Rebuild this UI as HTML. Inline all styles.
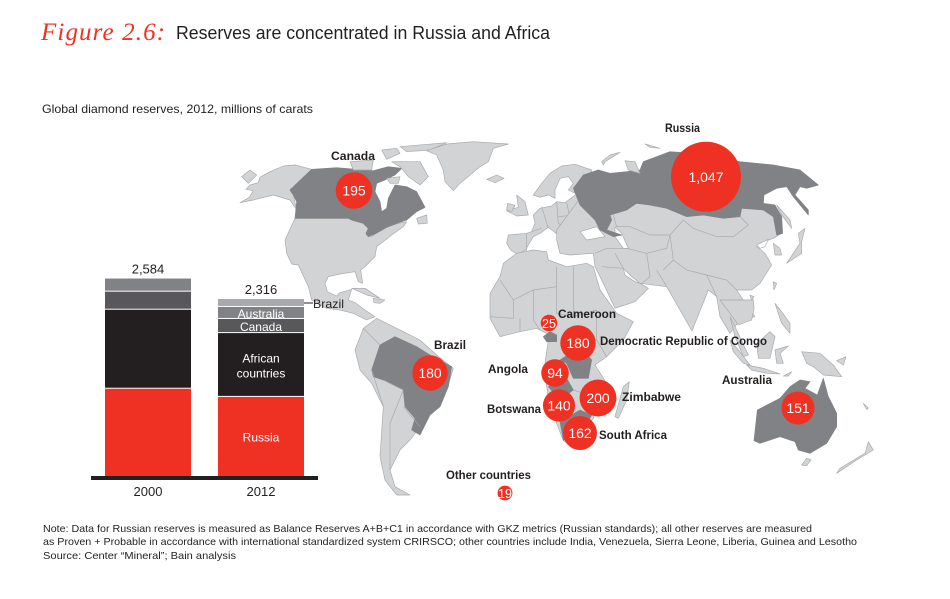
<!DOCTYPE html>
<html lang="en">
<head>
<meta charset="utf-8">
<title>Reserves are concentrated in Russia and Africa</title>
<style>
html,body{margin:0;padding:0;background:#fff;width:950px;height:599px;overflow:hidden}
svg{display:block;font-family:"Liberation Sans",sans-serif}
.land polygon,.land-light{fill:#d1d3d4;stroke:#a7a9ac;stroke-width:2;stroke-linejoin:round}
.dark{fill:#808285!important;stroke:#808285!important}
.sea{fill:#fff!important;stroke:#a7a9ac!important}
.border{fill:none;stroke:#a7a9ac;stroke-width:2}
.lbl{font-weight:bold;font-size:12px;fill:#231f20}
</style>
</head>
<body>
<svg id="chart" width="950" height="599" viewBox="0 0 950 599" xmlns="http://www.w3.org/2000/svg">
<text x="41" y="40" font-family="'Liberation Serif',serif" font-style="italic" font-size="25" fill="#ef3124" textLength="124" lengthAdjust="spacing">Figure 2.6:</text>
<text x="176" y="39" font-size="18" fill="#231f20" textLength="374" lengthAdjust="spacingAndGlyphs">Reserves are concentrated in Russia and Africa</text>
<text x="42" y="113" font-size="12" fill="#231f20" textLength="271" lengthAdjust="spacingAndGlyphs">Global diamond  reserves, 2012, millions of carats</text>

<g>
<g class="land" transform="translate(240,120) scale(.33333)">
<polygon points="0,248 28,232 40,212 18,208 30,195 55,188 60,172 90,155 130,138 165,135 215,148 150,210 160,225 170,270 150,240 100,225 40,240"/>
<polygon points="5,170 30,150 50,165 25,190"/>
<polygon points="165,295 325,295 335,300 370,310 385,325 378,345 395,350 405,342 440,322 475,310 500,305 490,320 455,345 430,365 410,380 405,410 375,440 362,450 368,490 355,485 345,455 300,462 265,470 255,490 262,515 290,528 300,518 335,508 325,540 345,548 375,570 405,590 380,600 340,580 300,570 260,565 215,540 205,500 175,435 155,432 140,400 135,360"/>
<polygon class="dark" points="150,210 215,148 290,143 400,152 445,140 485,145 465,165 435,180 410,190 405,215 420,245 425,275 440,265 445,235 465,195 500,200 530,215 555,262 530,275 500,300 470,310 440,322 405,342 385,350 378,340 385,325 370,310 335,300 325,295 165,295 170,245 160,225"/>
<polygon points="455,125 540,125 565,170 540,195 505,170 480,140"/>
<polygon points="330,125 400,120 395,150 340,150"/>
<polygon points="425,90 470,85 480,100 440,118"/>
<polygon points="480,80 620,68 570,90 500,95"/>
<polygon points="440,175 480,170 475,190 450,190"/>
<polygon points="530,295 560,285 562,310 535,312"/>
<polygon points="560,92 620,72 700,65 805,72 760,85 745,125 720,140 690,165 660,190 640,212 615,185 610,150 590,105"/>
<polygon points="740,178 770,165 792,175 765,188"/>
<polygon points="335,505 375,505 420,535 380,525"/>
<polygon points="400,535 435,540 420,550 402,548"/>
<polygon points="830,225 855,245 865,285 830,288 800,272 835,262"/>
<polygon points="803,250 825,256 815,275 800,270"/>
<polygon points="880,225 905,190 930,160 965,138 1005,133 1055,150 1055,205 1010,222 985,210 1000,190 985,170 960,175 945,210 945,235 925,225 900,232"/>
<polygon points="805,345 860,340 875,335 885,310 880,285 900,265 935,258 950,245 975,248 1010,222 1055,205 1055,360 1020,335 990,335 1005,362 1015,398 995,400 985,375 955,345 925,322 900,340 880,350 855,392 830,402 812,390 800,370"/>
<path class="border" d="M875,335 L905,325 M905,260 L925,325 M950,245 L955,310 L990,335 M980,248 L1000,335 M955,290 L1050,280 M1010,222 L1040,275 M860,340 L860,395"/>
</g>
<g class="land" transform="translate(560,120) scale(.33333)">
<polygon points="-10,330 60,235 150,240 250,225 400,260 540,245 650,270 665,340 640,355 600,370 590,380 615,400 635,435 600,490 575,510 530,510 550,540 585,590 540,600 510,640 480,590 470,530 445,510 396,633 320,500 240,490 265,505 225,545 165,565 130,490 105,440 100,400 30,405 0,400 -10,360"/>
<polygon class="sea" points="60,335 110,320 135,350 80,360"/>
<polygon class="sea" points="165,320 185,340 205,385 190,385 165,350"/>
<polygon class="sea" points="190,445 215,470 240,490 225,485 195,465"/>
<polygon class="sea" points="590,375 625,358 615,380 600,385"/>
<polygon class="dark" points="40,205 70,165 115,150 150,160 200,155 240,150 250,125 330,95 400,100 540,125 640,135 720,150 775,195 740,205 720,200 705,225 745,270 745,285 700,230 680,200 650,205 612,225 610,250 645,255 665,290 668,340 650,345 640,290 610,270 545,265 540,290 490,295 430,285 380,290 320,265 270,255 230,250 200,270 150,285 155,300 140,330 185,345 160,350 120,330 105,300 60,255"/>
<polygon points="125,125 150,105 180,97 135,125 130,135"/>
<polygon points="255,72 300,85 270,82"/>
<polygon points="195,122 225,125 240,160 205,150"/>
<polygon points="650,255 690,300 695,325 665,285"/>
<polygon points="680,430 700,400 720,370 715,340 735,325 725,365 725,400 695,420"/>
<polygon points="640,370 660,385 665,405 645,405"/>
<polygon points="640,485 650,490 642,510"/>
<polygon points="570,525 582,530 575,542"/>
<path class="border" d="M160,285 L170,320 L210,320 L270,345 L330,345 L370,300 L400,325 L470,350 L520,350 L565,315 L540,290 M330,345 L340,420 L380,450 L440,465 L500,480 L530,510 M200,385 L260,400 L270,470 L245,490 M260,400 L320,385 L330,345 M290,450 L320,500 M340,420 L310,450 M105,400 L140,385 L200,385 M125,440 L190,445 M165,400 L190,445 M440,465 L470,530 M495,540 L540,600"/>
</g>
<g class="land" transform="translate(340,290) scale(.33333)">
<polygon points="530,-110 580,-120 620,-115 625,-90 680,-70 740,-80 760,-70 780,0 830,70 880,95 850,150 800,200 765,225 800,280 800,320 770,345 760,385 725,430 700,470 670,452 650,400 625,320 612,240 625,150 620,130 590,115 540,125 480,140 450,85 450,10 480,-40 490,-80"/>
<polygon points="825,380 850,290 868,275 860,330 835,385"/>
<polygon points="45,180 70,115 110,85 170,115 240,150 290,195 340,235 320,300 300,350 260,380 240,410 210,450 180,480 150,540 165,590 210,615 170,615 135,570 120,500 130,350 95,280 60,240"/>
<polygon class="dark" points="95,240 120,165 165,140 230,170 270,195 335,230 325,290 300,350 270,375 240,435 215,420 225,385 195,350 190,300 130,270 100,260"/>
<polygon class="dark" points="610,140 630,125 650,135 650,155 620,155"/>
<polygon class="dark" points="660,210 720,170 755,210 745,265 700,265 680,220"/>
<polygon class="dark" points="625,290 680,265 700,300 660,330"/>
<polygon class="dark" points="660,395 720,360 755,375 720,440 670,450"/>
<path class="border" d="M450,80 L520,85 L520,30 L580,0 L650,-10 L650,70 L700,80 L770,60 M580,0 L580,90 L600,120 M520,30 L480,-30 M650,-10 L650,-70 M700,80 L700,-70 M540,125 L540,85 M770,60 L770,150 L800,200 M700,130 L770,150 M120,165 L70,115 M95,240 L130,350 M130,270 L190,300 M190,300 L150,400 L150,540 M190,350 L240,410 M700,300 L760,320 M660,320 L700,340"/>
</g>
<g class="land" transform="translate(680,300) scale(.33333)">
<polygon points="120,0 220,0 222,25 215,60 175,75 150,40"/>
<polygon points="150,50 165,80 205,165 190,170 165,110"/>
<polygon points="230,130 270,95 285,110 270,175 235,175"/>
<polygon points="150,120 175,150 210,195 190,190 160,155"/>
<polygon points="200,195 250,205 300,222 260,220 215,210"/>
<polygon points="285,150 325,138 300,160 310,190 290,190"/>
<polygon points="285,10 305,35 330,70 330,100 305,70"/>
<polygon points="365,155 420,160 460,195 485,230 430,225 400,200 380,190"/>
<polygon points="310,228 335,215 325,228"/>
<polygon points="470,182 498,170 490,195"/>
<polygon points="550,310 565,325 560,328"/>
<polygon class="dark" points="222,422 232,330 300,295 330,260 360,240 390,245 375,265 412,285 430,235 445,290 470,340 470,380 440,430 390,460 355,450 345,425 300,410 240,430"/>
<polygon points="365,495 380,475 393,480 380,497"/>
<polygon points="470,520 530,480 580,450 565,425 555,460 480,505"/>
</g>
</g>

<g>
<text class="lbl" x="331" y="160" textLength="44" lengthAdjust="spacingAndGlyphs">Canada</text>
<text class="lbl" x="665" y="132" textLength="35" lengthAdjust="spacingAndGlyphs">Russia</text>
<text class="lbl" x="434" y="349" textLength="32" lengthAdjust="spacingAndGlyphs">Brazil</text>
<text class="lbl" x="558" y="318" textLength="58" lengthAdjust="spacingAndGlyphs">Cameroon</text>
<text class="lbl" x="600" y="345" textLength="167" lengthAdjust="spacingAndGlyphs">Democratic Republic of Congo</text>
<text class="lbl" x="488" y="373" textLength="40" lengthAdjust="spacingAndGlyphs">Angola</text>
<text class="lbl" x="622" y="401" textLength="59" lengthAdjust="spacingAndGlyphs">Zimbabwe</text>
<text class="lbl" x="487" y="413" textLength="54" lengthAdjust="spacingAndGlyphs">Botswana</text>
<text class="lbl" x="599" y="439" textLength="68" lengthAdjust="spacingAndGlyphs">South Africa</text>
<text class="lbl" x="446" y="479" textLength="85" lengthAdjust="spacingAndGlyphs">Other countries</text>
<text class="lbl" x="722" y="384" textLength="50" lengthAdjust="spacingAndGlyphs">Australia</text>
</g>

<g id="bubbles"></g>
<g id="bars"></g>

<line x1="304" y1="303" x2="313" y2="303" stroke="#231f20" stroke-width="1"/>
<text x="313" y="308" font-size="12" fill="#231f20" textLength="31" lengthAdjust="spacingAndGlyphs">Brazil</text>

<g font-size="10.5" fill="#231f20">
<text x="43" y="532" textLength="769" lengthAdjust="spacingAndGlyphs">Note:  Data for Russian reserves is measured as Balance Reserves A+B+C1 in accordance with GKZ metrics (Russian standards); all other reserves  are measured</text>
<text x="43" y="545" textLength="814" lengthAdjust="spacingAndGlyphs">as Proven + Probable in accordance with international standardized system CRIRSCO; other countries include India, Venezuela, Sierra Leone, Liberia, Guinea and Lesotho</text>
<text x="43" y="559" textLength="193" lengthAdjust="spacingAndGlyphs">Source:  Center “Mineral”; Bain analysis</text>
</g>
</svg>

<script>
// Bubble data (pseudo longitude / latitude on the map projection, reserves in millions of carats)
const regionNames = ["Canada","Russia","Brazil","Cameroon","Democratic Republic of Congo","Angola","Zimbabwe","Botswana","South Africa","Other countries","Australia"];
const regionValues = [195,1047,180,25,180,94,200,140,162,19,151];
const regionLon = [-78,98,-40,19.5,34,22.5,44,24.5,35,-2.5,144];
const regionLat = [59,64.5,-14,6,-2,-14,-24,-27,-38,-62,-28];

// Stacked bar data
const barYears = ["2000","2012"];
const barTotalLabels = ["2,584","2,316"];
const seriesRussia = [1142,1035];
const seriesAfrica = [1034,835];
const seriesCanada = [236,185];
const seriesAustralia = [172,157];
const seriesBrazil = [0,104];
const segmentLabels2012 = [["Russia"],["African","countries"],["Canada"],["Australia"],[]];

const NS = "http://www.w3.org/2000/svg";
const xLon = lon => 510 + 2.0 * lon;
const yLat = lat => 338 - 2.5 * lat;
const rVal = v => 35 * Math.pow(v / 1047, 0.387);
const bandX = i => 105 + 113 * i;
const bandW = 86;
const yVal = v => 476 - v * 0.07642;
const fmt = v => v >= 1000 ? Math.floor(v / 1000) + "," + String(v % 1000).padStart(3, "0") : String(v);

const bubbles = document.getElementById("bubbles");
regionValues.forEach((v, i) => {
  const cx = xLon(regionLon[i]);
  const cy = yLat(regionLat[i]);
  const r = rVal(v);
  const c = document.createElementNS(NS, "circle");
  c.setAttribute("cx", cx);
  c.setAttribute("cy", cy);
  c.setAttribute("r", r);
  c.setAttribute("fill", "#ef3124");
  
  
  bubbles.appendChild(c);
  const t = document.createElementNS(NS, "text");
  t.setAttribute("x", cx);
  t.setAttribute("y", cy + 5);
  t.setAttribute("text-anchor", "middle");
  t.setAttribute("fill", "#fff");
  t.setAttribute("font-size", v < 50 ? 12.5 : 14);
  t.textContent = fmt(v);
  
  
  bubbles.appendChild(t);
});

const bars = document.getElementById("bars");
const seriesList = [seriesRussia, seriesAfrica, seriesCanada, seriesAustralia, seriesBrazil];
const colors2000 = ["#ef3124", "#231f20", "#58585a", "#808285", "#a7a9ac"];
barYears.forEach((year, i) => {
  let cum = 0;
  seriesList.forEach((series, s) => {
    const v = series[i];
    if (!v) return;
    const top = yVal(cum + v);
    const bottom = yVal(cum);
    const rect = document.createElementNS(NS, "rect");
    rect.setAttribute("x", bandX(i));
    rect.setAttribute("y", top);
    rect.setAttribute("width", bandW);
    rect.setAttribute("height", Math.max(bottom - top - (s === 0 ? 0 : 1), 0));
    rect.setAttribute("fill", colors2000[s]);
    
    
    bars.appendChild(rect);
    if (i === 1) {
      const lines = segmentLabels2012[s];
      lines.forEach((line, k) => {
        const t = document.createElementNS(NS, "text");
        t.setAttribute("x", bandX(i) + bandW / 2);
        t.setAttribute("y", (top + bottom) / 2 + 5 + (k - (lines.length - 1) / 2) * 15);
        t.setAttribute("text-anchor", "middle");
        t.setAttribute("fill", "#fff");
        t.setAttribute("font-size", 12);
        t.textContent = line;
        
        
        bars.appendChild(t);
      });
    }
    cum += v;
  });
  const total = document.createElementNS(NS, "text");
  total.setAttribute("x", bandX(i) + bandW / 2);
  total.setAttribute("y", yVal(cum) - 5);
  total.setAttribute("text-anchor", "middle");
  total.setAttribute("fill", "#231f20");
  total.setAttribute("font-size", 13);
  total.textContent = barTotalLabels[i];
  
  
  bars.appendChild(total);
  const tick = document.createElementNS(NS, "text");
  tick.setAttribute("x", bandX(i) + bandW / 2);
  tick.setAttribute("y", 496);
  tick.setAttribute("text-anchor", "middle");
  tick.setAttribute("fill", "#231f20");
  tick.setAttribute("font-size", 13);
  tick.textContent = year;
  
  
  bars.appendChild(tick);
});
const baseline = document.createElementNS(NS, "rect");
baseline.setAttribute("x", 91);
baseline.setAttribute("y", 476);
baseline.setAttribute("width", 227);
baseline.setAttribute("height", 4);
baseline.setAttribute("fill", "#231f20");


bars.appendChild(baseline);
</script>
</body>
</html>
